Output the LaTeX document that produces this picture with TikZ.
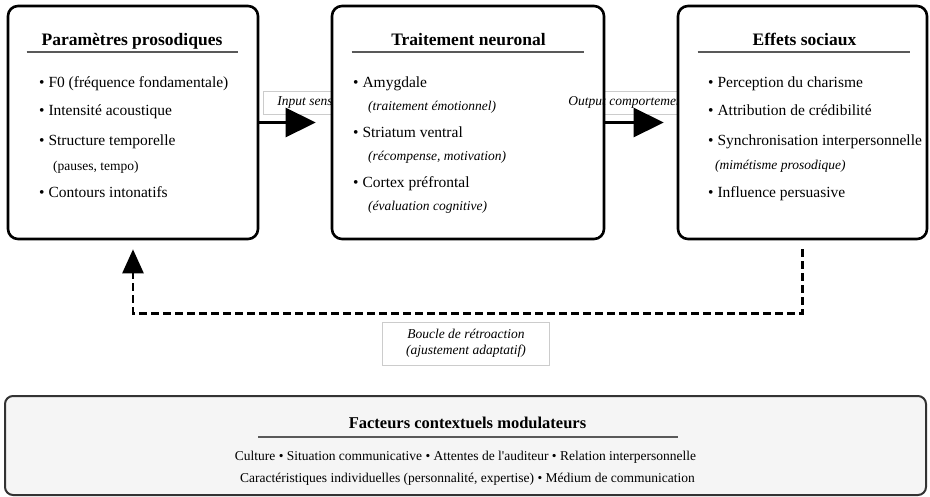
\documentclass[tikz,border=0pt]{standalone}
\usepackage{fontspec}
\setmainfont{Liberation Serif}
\usetikzlibrary{arrows.meta,positioning,calc}

\begin{document}
\begin{tikzpicture}[x=1pt, y=-1pt,
    bloc/.style={draw, line width=2.6pt, rounded corners=10pt, fill=white, minimum height=233pt, inner sep=0pt},
    titre/.style={font=\fontsize{17.5}{20}\selectfont\bfseries, anchor=base, inner sep=0pt},
    puce/.style={font=\fontsize{15.5}{18}\selectfont, anchor=base west, inner sep=0pt},
    detail/.style={font=\fontsize{13.5}{16}\selectfont\itshape, anchor=base west, inner sep=0pt},
    trait/.style={line width=1.8pt, black!65},
    fleche/.style={line width=2.6pt, -{Triangle[length=30pt, width=29pt]}},
    etiquette/.style={font=\fontsize{13.5}{16}\selectfont\itshape, fill=white, draw=black!20, line width=0.8pt, minimum height=23pt, inner ysep=0pt},
    cadre/.style={draw=black!20, line width=0.8pt},
    retour/.style={line width=2.6pt, dash pattern=on 8pt off 4pt, -{Triangle[length=24pt, width=21pt]}},
    contexte/.style={draw=black!80, line width=2pt, rounded corners=8pt, fill=black!4, minimum width=921pt, minimum height=99pt}
  ]
  \useasboundingbox (0,0) rectangle (930,496);

  % Etiquettes des fleches
  \node[etiquette, anchor=west, inner xsep=14pt] (entree) at (263,102.5) {Input sensoriel};
  \draw[cadre] (604,91) -- (678,91) (604,114) -- (678,114);

  % Blocs
  \node[bloc, minimum width=250pt] (prosod) at (133,122.5) {};
  \node[bloc, minimum width=272pt] (neuro) at (468,122.5) {};
  \node[etiquette, draw=none, fill=none, anchor=west, inner xsep=0pt] (sortie) at (568,102.5) {Output comportemental};
  \node[bloc, minimum width=249pt] (social) at (802.5,122.5) {};

  % Parametres prosodiques
  \node[titre] (t1) at (132,45) {Paramètres prosodiques};
  \draw[trait] ($(prosod.north west)+(20,47)$) -- ($(prosod.north east)+(-21,47)$);
  \node[puce] (p1) at (39,87) {• F0 (fréquence fondamentale)};
  \node[puce] (p2) at (39,115) {• Intensité acoustique};
  \node[puce] (p3) at (39,145) {• Structure temporelle};
  \node[detail, font=\fontsize{13.5}{16}\selectfont] (p3b) at (53,170) {(pauses, tempo)};
  \node[puce] (p4) at (39,197) {• Contours intonatifs};

  % Traitement neuronal
  \node[titre] (t2) at (468.5,45) {Traitement neuronal};
  \draw[trait] ($(neuro.north west)+(21,47)$) -- ($(neuro.north east)+(-21,47)$);
  \node[puce] (n1) at (353,87) {• Amygdale};
  \node[detail] (n1b) at (368,110) {(traitement émotionnel)};
  \node[puce] (n2) at (353,137) {• Striatum ventral};
  \node[detail] (n2b) at (368,160) {(récompense, motivation)};
  \node[puce] (n3) at (353,187) {• Cortex préfrontal};
  \node[detail] (n3b) at (368,210) {(évaluation cognitive)};

  % Effets sociaux
  \node[titre] (t3) at (804.5,45) {Effets sociaux};
  \draw[trait] ($(social.north west)+(21,47)$) -- ($(social.north east)+(-18,47)$);
  \node[puce] (s1) at (708,87) {• Perception du charisme};
  \node[puce] (s2) at (708,115) {• Attribution de crédibilité};
  \node[puce] (s3) at (708,145) {• Synchronisation interpersonnelle};
  \node[detail] (s3b) at (715,169) {(mimétisme prosodique)};
  \node[puce] (s4) at (708,197) {• Influence persuasive};

  % Fleches
  \draw[fleche, shorten >=15pt] (prosod) -- (neuro);
  \draw[fleche, shorten >=13pt] (neuro) -- (social);

  % Boucle de retroaction
  \draw[retour] ([yshift=-9pt]social.south) -- ++(0,64) -| ([yshift=-9pt]prosod.south);
  \node[etiquette, align=center, minimum width=167pt, minimum height=43pt] (boucle) at (466,343.5) {Boucle de rétroaction\\(ajustement adaptatif)};

  % Facteurs contextuels
  \node[contexte] (ctx) at (465.5,445.5) {};
  \node[titre, font=\fontsize{16.5}{19}\selectfont\bfseries] (t4) at (467.5,428) {Facteurs contextuels modulateurs};
  \draw[trait] (258,437) -- (678,437);
  \node[anchor=base, inner sep=0pt, font=\fontsize{13.5}{16}\selectfont] (c1) at (465.5,460) {Culture • Situation communicative • Attentes de l\textquotesingle auditeur • Relation interpersonnelle};
  \node[anchor=base, inner sep=0pt, font=\fontsize{13.5}{16}\selectfont] (c2) at (467.5,482) {Caractéristiques individuelles (personnalité, expertise) • Médium de communication};
\end{tikzpicture}
\end{document}
